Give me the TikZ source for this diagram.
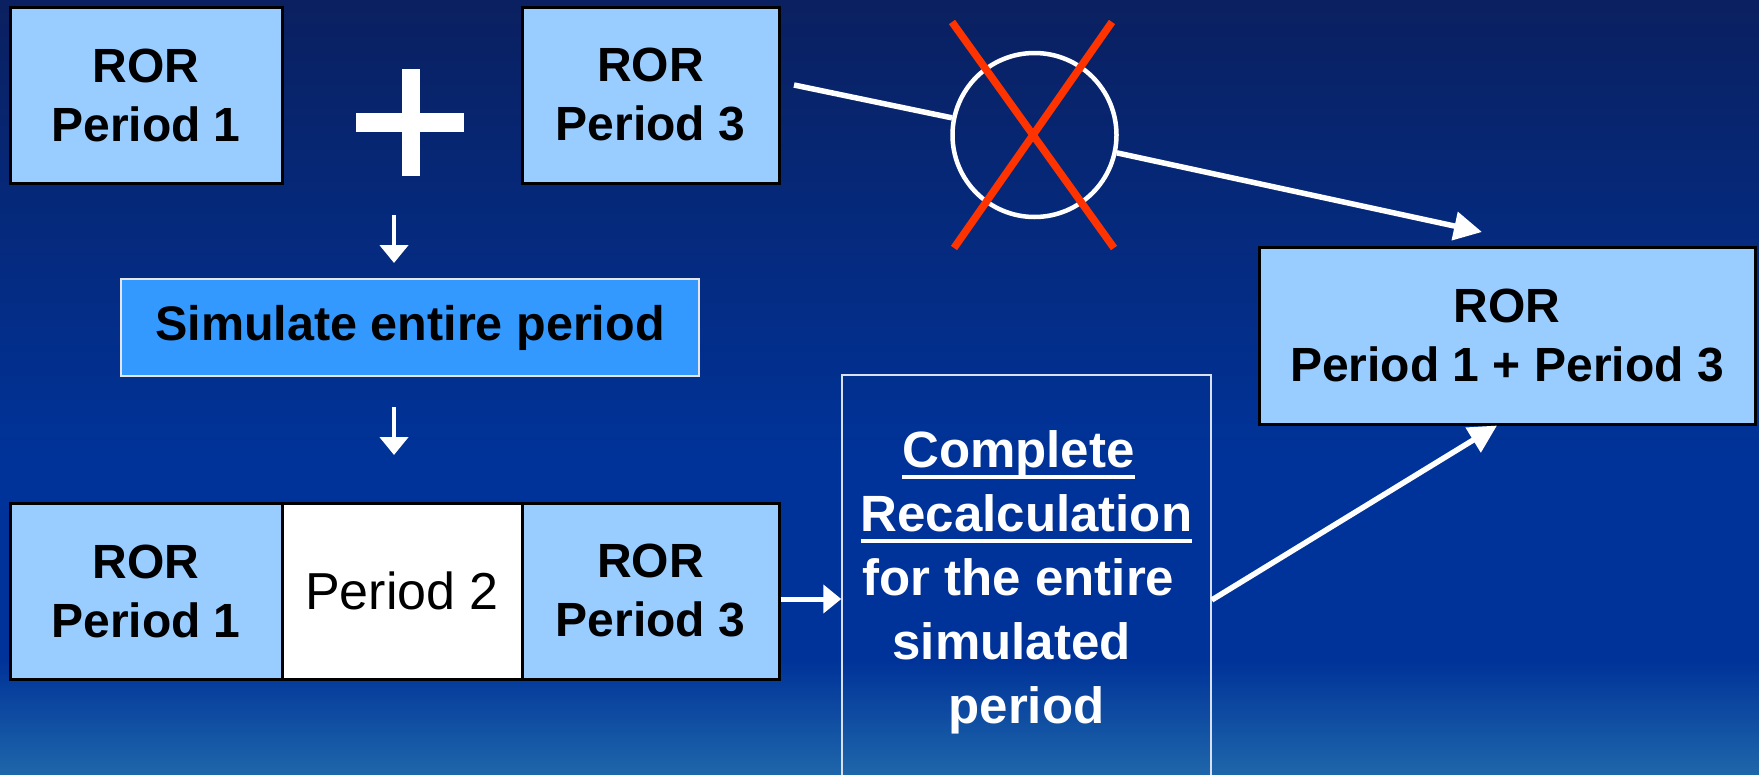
\documentclass[tikz,border=0pt]{standalone}
\usepackage{fontspec}
\setmainfont{Liberation Sans}
\usetikzlibrary{arrows.meta}
\definecolor{navytop}{HTML}{0A2060}
\definecolor{navymid}{HTML}{003399}
\definecolor{navybot}{HTML}{1E66AA}
\definecolor{paleblue}{HTML}{99CCFF}
\definecolor{midblue}{HTML}{3399FF}
\definecolor{crossred}{HTML}{FF3300}
% thick underline drawn under a word
\newcommand\ulword[1]{\setbox0\hbox{#1}\rlap{\rule[-11.5pt]{\wd0}{4pt}}\box0}
\begin{document}
\begin{tikzpicture}[x=1pt,y=-1pt,
  rorbox/.style={draw=black,line width=3pt,fill=paleblue,inner sep=0pt,align=center,
    font=\bfseries\fontsize{48}{59}\selectfont},
  simbox/.style={draw=white!90!black,line width=2pt,fill=midblue,inner sep=0pt,
    font=\bfseries\fontsize{48.5}{59}\selectfont},
  calcbox/.style={draw=white!85!navymid,line width=1.5pt,inner sep=0pt,align=center,
    text=white,font=\bfseries\fontsize{51}{64}\selectfont},
  thinarrow/.style={draw=white,line width=4.5pt,-{Triangle[length=18pt,width=28pt]}},
  bigarrow/.style={draw=white,line width=5.5pt,-{Triangle[length=28pt,width=28pt]}},
  crossline/.style={draw=crossred,line width=7.5pt}]
\useasboundingbox (0,0) rectangle (1759,774);
% background
\shade[top color=navytop,bottom color=navymid] (0,0) rectangle (1759,460);
\fill[navymid] (0,459) rectangle (1759,661);
\shade[top color=navymid,bottom color=navybot] (0,660) rectangle (1759,774);

% top row
\node[rorbox,minimum width=272pt,minimum height=176pt] (p1) at (146,95) {ROR\\Period 1};
\node[rorbox,minimum width=257pt,minimum height=176pt] (p3) at (650.5,95) {ROR\\Period 3};
\fill[white] (356,113) rectangle (464,132);
\fill[white] (401.5,69) rectangle (420,176);

% simulation step
\node[simbox,minimum width=578pt,minimum height=97pt] (sim) at (410,327.5) {Simulate entire period};
\coordinate (d1s) at (394,215);
\coordinate (d1e) at (394,263);
\draw[thinarrow] (d1s) -- (d1e);
\coordinate (d2s) at (394,407);
\coordinate (d2e) at (394,455);
\draw[thinarrow] (d2s) -- (d2e);

% simulated series
\node[rorbox,minimum width=272pt,minimum height=176pt] (q1) at (146,591) {ROR\\Period 1};
\node[rorbox,fill=white,minimum width=240pt,minimum height=176pt,
  font=\fontsize{52}{60}\selectfont] (q2) at (402,591) {Period 2};
\node[rorbox,minimum width=257pt,minimum height=176pt] (q3) at (650.5,591) {ROR\\Period 3};

% recalculation
\node[calcbox,minimum width=369pt,minimum height=415pt] (calc) at (1026.5,582.5)
  {\mbox{\ulword{Complete}\kern16pt}\\\ulword{Recalculation}\\\mbox{for the entire\kern16pt}\\\mbox{simulated\kern30pt}\\period};
\draw[thinarrow,line width=5pt] ([yshift=-8pt]q3.east) -- ([yshift=-8pt]q3.east -| calc.west);

% result
\node[rorbox,minimum width=496pt,minimum height=177pt] (sum) at (1507,335.5) {ROR\\Period 1 + Period 3};
\draw[bigarrow] ([yshift=-17.5pt]calc.east) -- ([xshift=-10pt]sum.south);

% direct combination, crossed out
\node[circle,draw=white,line width=4.5pt,minimum size=164pt,inner sep=0pt] (nope) at (1034.5,135) {};
\coordinate (ls) at (794,85);
\coordinate (lt) at (1482,232);
\draw[white,line width=5.5pt] (ls) -- (nope);
\draw[bigarrow] (nope) -- (lt);
\draw[crossline] (952,22) -- (1114,248);
\draw[crossline] (1112,22) -- (954,248);
\end{tikzpicture}
\end{document}
